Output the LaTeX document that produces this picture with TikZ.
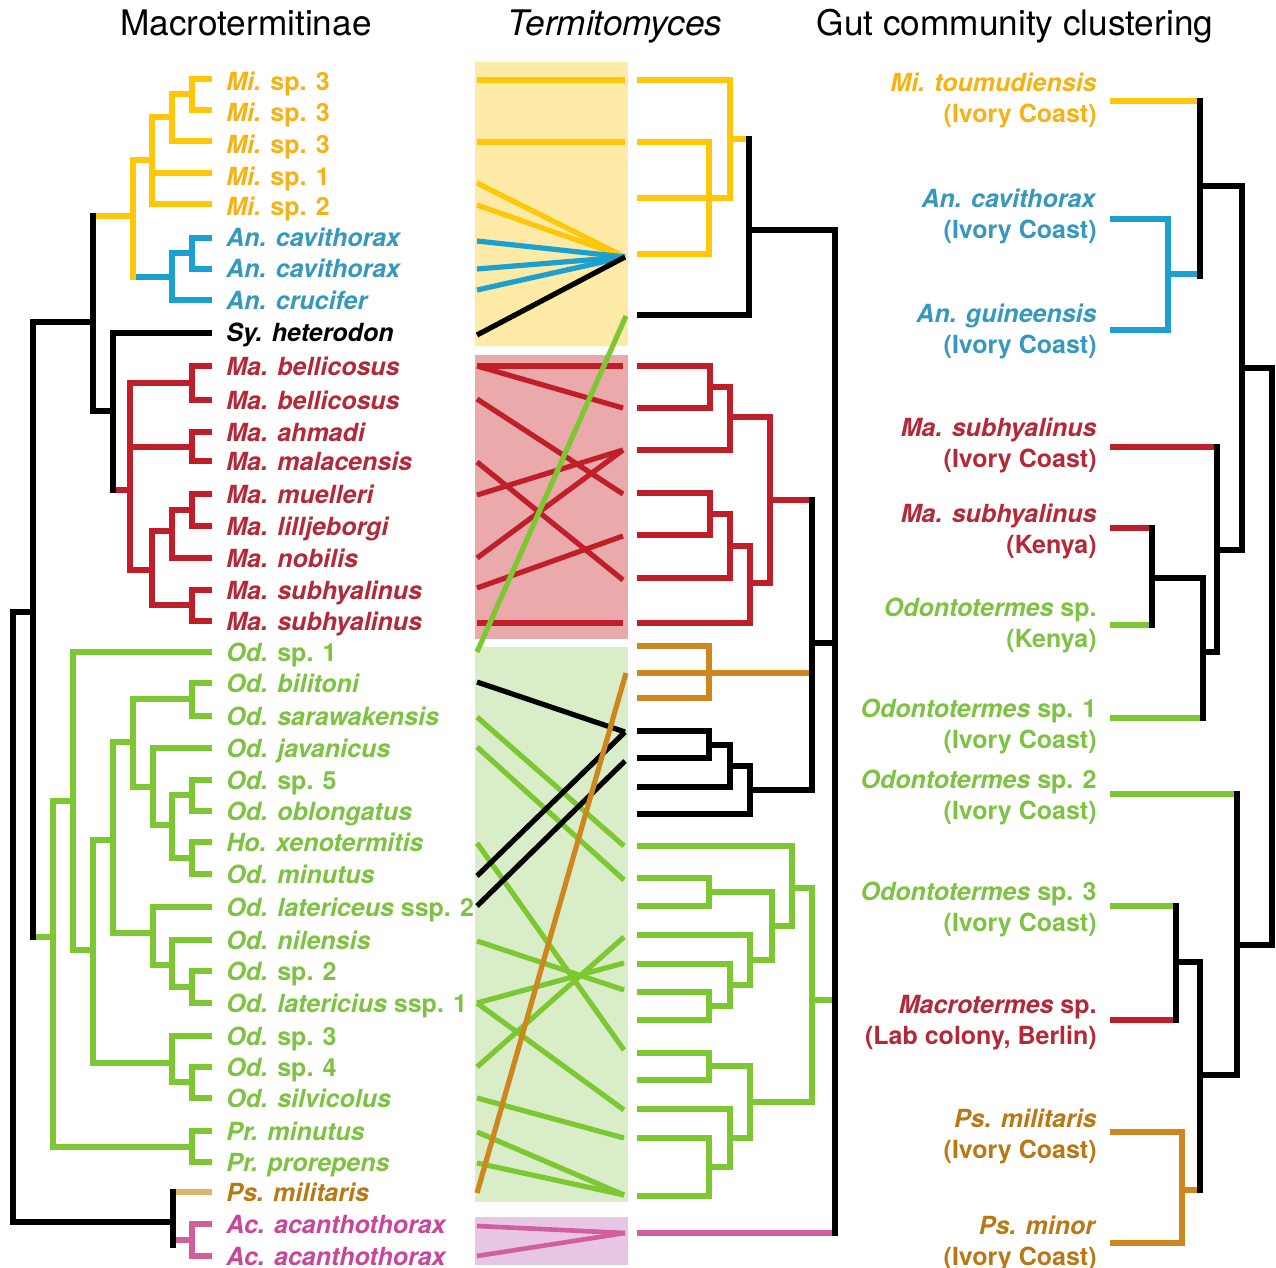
\documentclass[tikz,border=0pt]{standalone}
\usepackage{fontspec}
\setsansfont{TeX Gyre Heros}
\usepackage{xcolor}
\usepackage{tikz}

\definecolor{miline}{RGB}{255,198,10}
\definecolor{mitext}{RGB}{246,178,20}
\definecolor{anline}{RGB}{28,160,208}
\definecolor{antext}{RGB}{55,152,190}
\definecolor{maline}{RGB}{192,30,40}
\definecolor{matext}{RGB}{180,40,55}
\definecolor{odline}{RGB}{125,200,50}
\definecolor{odtext}{RGB}{125,195,65}
\definecolor{psline}{RGB}{205,135,30}
\definecolor{pslight}{RGB}{222,178,105}
\definecolor{pstext}{RGB}{185,120,20}
\definecolor{acline}{RGB}{208,95,155}
\definecolor{actext}{RGB}{200,70,155}
\definecolor{mibox}{RGB}{253,234,166}
\definecolor{mabox}{RGB}{234,170,172}
\definecolor{odbox}{RGB}{217,237,200}
\definecolor{acbox}{RGB}{231,197,228}

\tikzset{
  treeline/.style={line width=3.4pt, line cap=rect, line join=miter},
  gutleaf/.style={line width=2.7pt, line cap=rect},
  assoc/.style={line width=2.6pt},
  leftlab/.style={font=\sffamily\bfseries\fontsize{12.5}{15}\selectfont, inner sep=0pt, anchor=base west},
  rightlab/.style={font=\sffamily\bfseries\fontsize{12.5}{15}\selectfont, inner sep=0pt, anchor=base east},
  headtxt/.style={font=\sffamily\fontsize{17.6}{20}\selectfont, inner sep=0pt, anchor=base}
}

\begin{document}
\begin{tikzpicture}[x=0.5pt,y=-0.5pt]
\useasboundingbox (0,0) rectangle (1276,1268);

% headings
\node[headtxt] (hleft) at (246,36) {Macrotermitinae};
\node[headtxt] (hmid) at (615,36) {\textit{Termitomyces}};
\node[headtxt] (hright) at (1015,36) {Gut community clustering};

% boxes
\fill[mibox] (475,62) rectangle (628,346);
\fill[mabox] (475,355) rectangle (628,639);
\fill[odbox] (475,647) rectangle (628,1202);
\fill[acbox] (475,1217) rectangle (628,1265);

% associations
\draw[assoc,miline] (477,80) -- (625,80);
\draw[assoc,miline] (477,142) -- (625,142);
\draw[assoc,miline] (477,183) -- (625,257);
\draw[assoc,miline] (477,205) -- (625,257);
\draw[assoc,anline] (477,241) -- (625,257);
\draw[assoc,anline] (477,269) -- (625,257);
\draw[assoc,anline] (477,290) -- (625,257);
\draw[assoc] (477,335) -- (625,257);
\draw[assoc,maline] (477,366) -- (623,366);
\draw[assoc,maline] (477,366) -- (623,408);
\draw[assoc,maline] (477,399) -- (623,494);
\draw[assoc,maline] (477,462) -- (623,580);
\draw[assoc,maline] (477,495) -- (623,450);
\draw[assoc,maline] (477,558) -- (623,450);
\draw[assoc,maline] (477,588) -- (623,536);
\draw[assoc,maline] (477,623) -- (623,623);
\draw[assoc,odline] (626,316) -- (477,652);
\draw[assoc,odline] (477,717) -- (624,846);
\draw[assoc,odline] (477,747) -- (624,880);
\draw[assoc,odline] (477,843) -- (624,1050);
\draw[assoc,odline] (477,941) -- (624,990);
\draw[assoc,odline] (477,1003) -- (624,963);
\draw[assoc,odline] (477,1003) -- (624,1110);
\draw[assoc,odline] (477,1067) -- (624,937);
\draw[assoc,odline] (477,1098) -- (624,1138);
\draw[assoc,odline] (477,1132) -- (624,1195);
\draw[assoc,odline] (477,1163) -- (624,1195);
\draw[assoc] (477,682) -- (625,732);
\draw[assoc] (477,876) -- (625,732);
\draw[assoc] (477,906) -- (625,761);
\draw[assoc,psline] (626,673) -- (477,1193);
\draw[assoc,acline,line width=2.3pt] (477,1226) -- (625,1233);
\draw[assoc,acline,line width=2.3pt] (477,1256) -- (625,1233);

% host tree
\draw[treeline,anline] (209,238) -- (192,238) -- (192,269) -- (209,269);
\draw[treeline,anline] (192,253) -- (172,253) -- (172,300) -- (209,300);
\draw[treeline,anline] (172,277) -- (133,277);
\draw[treeline,miline] (209,79) -- (192,79) -- (192,110) -- (209,110);
\draw[treeline,miline] (192,94) -- (172,94) -- (172,141) -- (209,141);
\draw[treeline,miline] (172,117) -- (152,117) -- (152,204) -- (209,204);
\draw[treeline,miline] (152,173) -- (209,173);
\draw[treeline,miline] (152,160) -- (133,160) -- (133,277);
\draw[treeline,miline] (133,216) -- (93,216);
\draw[treeline,maline] (209,366) -- (192,366) -- (192,400) -- (209,400);
\draw[treeline,maline] (209,432) -- (192,432) -- (192,461) -- (209,461);
\draw[treeline,maline] (192,383) -- (130,383) -- (130,570) -- (152,570);
\draw[treeline,maline] (130,447) -- (192,447);
\draw[treeline,maline] (209,494) -- (192,494) -- (192,526) -- (209,526);
\draw[treeline,maline] (192,510) -- (172,510) -- (172,558) -- (209,558);
\draw[treeline,maline] (172,531) -- (152,531) -- (152,605) -- (192,605);
\draw[treeline,maline] (209,590) -- (192,590) -- (192,621) -- (209,621);
\draw[treeline,maline] (130,490) -- (113,490);
\draw[treeline,odline] (209,652) -- (73,652) -- (73,950) -- (93,950);
\draw[treeline,odline] (73,801) -- (53,801) -- (53,1147) -- (192,1147);
\draw[treeline,odline] (53,937) -- (33,937);
\draw[treeline,odline] (209,1131) -- (192,1131) -- (192,1162) -- (209,1162);
\draw[treeline,odline] (113,840) -- (93,840) -- (93,1063) -- (172,1063);
\draw[treeline,odline] (133,742) -- (113,742) -- (113,933) -- (153,933);
\draw[treeline,odline] (192,699) -- (133,699) -- (133,787) -- (153,787);
\draw[treeline,odline] (209,683) -- (192,683) -- (192,716) -- (209,716);
\draw[treeline,odline] (209,748) -- (153,748) -- (153,825) -- (172,825);
\draw[treeline,odline] (192,795) -- (172,795) -- (172,858) -- (192,858);
\draw[treeline,odline] (209,780) -- (192,780) -- (192,811) -- (209,811);
\draw[treeline,odline] (209,842) -- (192,842) -- (192,874) -- (209,874);
\draw[treeline,odline] (209,907) -- (153,907) -- (153,965) -- (172,965);
\draw[treeline,odline] (209,940) -- (172,940) -- (172,987) -- (192,987);
\draw[treeline,odline] (209,971) -- (192,971) -- (192,1003) -- (209,1003);
\draw[treeline,odline] (209,1036) -- (172,1036) -- (172,1082) -- (192,1082);
\draw[treeline,odline] (209,1067) -- (192,1067) -- (192,1098) -- (209,1098);
\draw[treeline,pslight] (173,1192) -- (209,1192);
\draw[treeline,acline] (173,1240) -- (192,1240);
\draw[treeline,acline] (209,1224) -- (192,1224) -- (192,1256) -- (209,1256);
\draw[treeline] (209,333) -- (113,333) -- (113,490);
\draw[treeline] (113,411) -- (93,411);
\draw[treeline] (93,216) -- (93,411);
\draw[treeline] (93,322) -- (33,322) -- (33,937);
\draw[treeline] (33,612) -- (13,612) -- (13,1222) -- (173,1222);
\draw[treeline] (173,1192) -- (173,1245);

% fungus tree
\draw[treeline,miline] (640,80) -- (730,80) -- (730,198) -- (640,198);
\draw[treeline,miline] (640,142) -- (709,142) -- (709,254) -- (640,254);
\draw[treeline,miline] (730,139) -- (749,139);
\draw[treeline,maline] (640,366) -- (710,366) -- (710,408) -- (640,408);
\draw[treeline,maline] (710,387) -- (730,387) -- (730,450) -- (640,450);
\draw[treeline,maline] (730,417) -- (770,417) -- (770,583) -- (750,583);
\draw[treeline,maline] (640,493) -- (710,493) -- (710,535) -- (640,535);
\draw[treeline,maline] (710,514) -- (730,514) -- (730,578) -- (640,578);
\draw[treeline,maline] (730,546) -- (750,546) -- (750,623) -- (640,623);
\draw[treeline,maline] (770,500) -- (812,500);
\draw[treeline,psline] (640,646) -- (709,646) -- (709,698) -- (640,698);
\draw[treeline,psline] (640,673) -- (812,673);
\draw[treeline,odline] (640,878) -- (709,878) -- (709,906) -- (640,906);
\draw[treeline,odline] (709,892) -- (772,892) -- (772,960) -- (750,960);
\draw[treeline,odline] (640,935) -- (750,935) -- (750,985) -- (730,985);
\draw[treeline,odline] (640,964) -- (730,964) -- (730,1006) -- (709,1006);
\draw[treeline,odline] (640,992) -- (709,992) -- (709,1020) -- (640,1020);
\draw[treeline,odline] (640,846) -- (792,846) -- (792,926) -- (772,926);
\draw[treeline,odline] (792,888) -- (812,888) -- (812,1102) -- (750,1102);
\draw[treeline,odline] (640,1053) -- (709,1053) -- (709,1080) -- (640,1080);
\draw[treeline,odline] (709,1066) -- (750,1066) -- (750,1138) -- (730,1138);
\draw[treeline,odline] (640,1109) -- (730,1109) -- (730,1167) -- (709,1167);
\draw[treeline,odline] (640,1138) -- (709,1138) -- (709,1196) -- (640,1196);
\draw[treeline,odline] (812,1000) -- (835,1000);
\draw[treeline,acline,line width=2.6pt] (640,1233) -- (835,1233);
\draw[treeline] (640,315) -- (749,315) -- (749,139);
\draw[treeline] (749,230) -- (835,230) -- (835,1233);
\draw[treeline] (640,731) -- (709,731) -- (709,758) -- (640,758);
\draw[treeline] (709,745) -- (730,745) -- (730,787) -- (640,787);
\draw[treeline] (730,766) -- (750,766) -- (750,814) -- (640,814);
\draw[treeline] (750,790) -- (812,790) -- (812,500);
\draw[treeline] (812,643) -- (835,643);

% gut community tree
\draw[gutleaf,miline] (1113,101) -- (1200,101);
\draw[treeline,anline] (1113,219) -- (1168,219) -- (1168,330) -- (1113,330);
\draw[treeline,anline] (1168,274) -- (1200,274);
\draw[gutleaf,maline] (1113,447) -- (1217,447);
\draw[gutleaf,maline] (1113,528) -- (1152,528);
\draw[gutleaf,odline] (1113,625) -- (1152,625);
\draw[gutleaf,odline] (1113,718) -- (1203,718);
\draw[gutleaf,odline] (1113,794) -- (1237,794);
\draw[gutleaf,odline] (1113,906) -- (1176,906);
\draw[gutleaf,maline] (1113,1020) -- (1176,1020);
\draw[treeline,psline] (1113,1132) -- (1182,1132) -- (1182,1243) -- (1113,1243);
\draw[treeline,psline] (1182,1190) -- (1200,1190);
\draw[treeline] (1200,101) -- (1200,276);
\draw[treeline] (1200,186) -- (1242,186) -- (1242,550);
\draw[treeline] (1242,368) -- (1272,368) -- (1272,945);
\draw[treeline] (1217,447) -- (1217,652);
\draw[treeline] (1217,550) -- (1242,550);
\draw[treeline] (1152,528) -- (1152,625);
\draw[treeline] (1152,578) -- (1203,578) -- (1203,718);
\draw[treeline] (1203,652) -- (1217,652);
\draw[treeline] (1237,794) -- (1237,1075);
\draw[treeline] (1237,945) -- (1272,945);
\draw[treeline] (1176,906) -- (1176,1020);
\draw[treeline] (1176,962) -- (1200,962) -- (1200,1190);
\draw[treeline] (1200,1075) -- (1237,1075);

% host names
\foreach \yy/\clr/\lbl [count=\i] in {
  82/mitext/{\textit{Mi.} sp. 3}, 113/mitext/{\textit{Mi.} sp. 3},
  145/mitext/{\textit{Mi.} sp. 3}, 176/mitext/{\textit{Mi.} sp. 1},
  207/mitext/{\textit{Mi.} sp. 2}, 238/antext/{\textit{An. cavithorax}},
  269/antext/{\textit{An. cavithorax}}, 300/antext/{\textit{An. crucifer}},
  332/black/{\textit{Sy. heterodon}}, 366/matext/{\textit{Ma. bellicosus}},
  400/matext/{\textit{Ma. bellicosus}}, 432/matext/{\textit{Ma. ahmadi}},
  461/matext/{\textit{Ma. malacensis}}, 494/matext/{\textit{Ma. muelleri}},
  526/matext/{\textit{Ma. lilljeborgi}}, 558/matext/{\textit{Ma. nobilis}},
  590/matext/{\textit{Ma. subhyalinus}}, 621/matext/{\textit{Ma. subhyalinus}},
  652/odtext/{\textit{Od.} sp. 1}, 683/odtext/{\textit{Od. bilitoni}},
  716/odtext/{\textit{Od. sarawakensis}}, 748/odtext/{\textit{Od. javanicus}},
  780/odtext/{\textit{Od.} sp. 5}, 811/odtext/{\textit{Od. oblongatus}},
  842/odtext/{\textit{Ho. xenotermitis}}, 874/odtext/{\textit{Od. minutus}},
  907/odtext/{\textit{Od. latericeus} ssp. 2}, 940/odtext/{\textit{Od. nilensis}},
  971/odtext/{\textit{Od.} sp. 2}, 1003/odtext/{\textit{Od. latericius} ssp. 1},
  1036/odtext/{\textit{Od.} sp. 3}, 1067/odtext/{\textit{Od.} sp. 4},
  1098/odtext/{\textit{Od. silvicolus}}, 1131/odtext/{\textit{Pr. minutus}},
  1162/odtext/{\textit{Pr. prorepens}}, 1192/pstext/{\textit{Ps. militaris}},
  1224/actext/{\textit{Ac. acanthothorax}}, 1256/actext/{\textit{Ac. acanthothorax}}}
  \node[leftlab,text=\clr] (host\i) at (226,\yy+9) {\lbl};

% gut samples
\foreach \yy/\clr/\lna/\lnb [count=\i] in {
  92/mitext/{\textit{Mi. toumudiensis}}/{(Ivory Coast)},
  208/antext/{\textit{An. cavithorax}}/{(Ivory Coast)},
  322/antext/{\textit{An. guineensis}}/{(Ivory Coast)},
  436/matext/{\textit{Ma. subhyalinus}}/{(Ivory Coast)},
  522/matext/{\textit{Ma. subhyalinus}}/{(Kenya)},
  616/odtext/{\textit{Odontotermes} sp.}/{(Kenya)},
  717/odtext/{\textit{Odontotermes} sp. 1}/{(Ivory Coast)},
  788/odtext/{\textit{Odontotermes} sp. 2}/{(Ivory Coast)},
  900/odtext/{\textit{Odontotermes} sp. 3}/{(Ivory Coast)},
  1013/matext/{\textit{Macrotermes} sp.}/{(Lab colony, Berlin)},
  1127/pstext/{\textit{Ps. militaris}}/{(Ivory Coast)},
  1234/pstext/{\textit{Ps. minor}}/{(Ivory Coast)}} {
  \node[rightlab,text=\clr] (gut\i) at (1097,\yy) {\lna};
  \node[rightlab,text=\clr] (site\i) at (1097,\yy+31) {\lnb};
}
\end{tikzpicture}
\end{document}
